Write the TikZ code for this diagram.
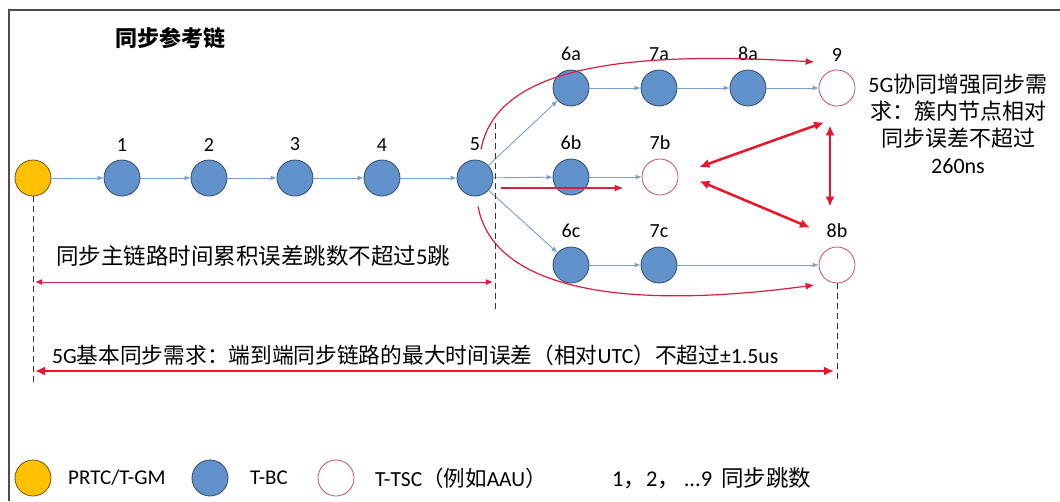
\documentclass[tikz,border=0pt]{standalone}
\usepackage{fontspec}
\setmainfont{Carlito}
\newfontfamily\cjk{Noto Sans CJK SC}
\usepackage{tikz}
\usetikzlibrary{shapes}
\usetikzlibrary{arrows}
\usetikzlibrary{arrows.meta}
\usetikzlibrary{positioning}
\usetikzlibrary{calc}

\definecolor{gmfill}{RGB}{255,192,0}
\definecolor{gmdraw}{RGB}{110,85,20}
\definecolor{bcfill}{RGB}{98,146,204}
\definecolor{bcdraw}{RGB}{52,72,102}
\definecolor{tscdraw}{RGB}{200,80,95}
\definecolor{linkblue}{RGB}{120,160,205}
\definecolor{arcred}{RGB}{215,30,65}
\definecolor{needred}{RGB}{235,20,40}

\begin{document}
\begin{tikzpicture}[x=1pt,y=-1pt,label distance=5pt]
\tikzstyle{every node}=[font=\fontsize{20}{24}\selectfont]
\tikzstyle{gm}=[circle,minimum size=36pt,inner sep=0pt,fill=gmfill,draw=gmdraw,thick]
\tikzstyle{bc}=[circle,minimum size=36pt,inner sep=0pt,fill=bcfill,draw=bcdraw,thick]
\tikzstyle{tsc}=[circle,minimum size=36pt,inner sep=0pt,fill=white,draw=tscdraw,thick]
\tikzstyle{hoplink}=[draw=linkblue,line width=0.9pt,-{Latex[length=6pt,width=5pt]}]
\tikzstyle{redarc}=[draw=arcred,line width=1.2pt,-{Latex[length=9pt,width=7pt]}]
\tikzstyle{needarrow}=[draw=needred,line width=2.5pt,{Latex[length=10pt,width=9pt]}-{Latex[length=10pt,width=9pt]}]
\tikzstyle{spanarrow}=[draw=arcred,line width=1pt,{Latex[length=7pt,width=6pt]}-{Latex[length=7pt,width=6pt]}]
\tikzstyle{guideline}=[draw=black!80,line width=1pt,dash pattern=on 6pt off 4pt]
\tikzstyle{plain}=[anchor=west,inner sep=0pt]

\useasboundingbox (0,0) rectangle (1060,501);
\draw[black!70,line width=1.5pt] (1060,10) -- (9,10) -- (9,501);

\node[font=\cjk\bfseries\fontsize{22}{26}\selectfont] (title) at (170,38) {同步参考链};

% main chain
\node[gm] (gm) at (33,178) {};
\node[bc,label={above:1}] (n1) at (122,178) {};
\node[bc,label={above:2}] (n2) at (209,178) {};
\node[bc,label={above:3}] (n3) at (295,178) {};
\node[bc,label={above:4}] (n4) at (382,178) {};
\node[bc,label={above:5}] (n5) at (475,178) {};

% branches
\node[bc,label={above:6a}] (n6a) at (571,88) {};
\node[bc,label={above:7a}] (n7a) at (659,88) {};
\node[bc,label={above:8a}] (n8a) at (748,88) {};
\node[tsc,label={above:9}] (n9) at (837,88) {};
\node[bc,label={above:6b}] (n6b) at (571,177) {};
\node[tsc,label={above:7b}] (n7b) at (660,177) {};
\node[bc,label={above:6c}] (n6c) at (571,265) {};
\node[bc,label={above:7c}] (n7c) at (659,265) {};
\node[tsc,label={above:8b}] (n8b) at (837,265) {};

\draw[hoplink] (gm) -- (n1);
\draw[hoplink] (n1) -- (n2);
\draw[hoplink] (n2) -- (n3);
\draw[hoplink] (n3) -- (n4);
\draw[hoplink] (n4) -- (n5);
\draw[hoplink] (n5) -- (n6a);
\draw[hoplink] (n5) -- (n6b);
\draw[hoplink] (n5) -- (n6c);
\draw[hoplink] (n6a) -- (n7a);
\draw[hoplink] (n7a) -- (n8a);
\draw[hoplink] (n8a) -- (n9);
\draw[hoplink] (n6b) -- (n7b);
\draw[hoplink] (n6c) -- (n7c);
\draw[hoplink] (n7c) -- (n8b);

% red paths to the T-TSC nodes
\draw[redarc] ($(n5.north)+(6,-10)$) .. controls +(15,-80) and +(-200,-12) .. ($(n9.west)+(-4,-26)$);
\draw[redarc] ($(n5.south)+(3,10)$) .. controls +(15,80) and +(-200,27) .. ($(n8b.west)+(-4,20)$);
\draw[redarc] ($(n5.east)+(8,10)$) -- ($(n7b.west)+(-18,11)$);

% cluster requirement
\draw[needarrow] ($(n7b.east)+(21,-10)$) -- ($(n9.south)+(-13,16)$);
\draw[needarrow] ($(n7b.east)+(21,4)$) -- ($(n8b.north)+(-27,-19)$);
\draw[needarrow] ($(n9.south)+(-7,19)$) -- ($(n8b.north)+(-7,-40)$);
\node[align=center,font=\fontsize{22}{27}\selectfont] (cluster) at (958,124)
  {5G{\cjk 协同增强同步需}\\{\cjk 求：簇内节点相对}\\{\cjk 同步误差不超过}\\260ns};

% spans
\coordinate (gmfoot) at (33,383);
\coordinate (n5top) at (495,123);
\coordinate (n5foot) at (495,311);
\coordinate (n8bfoot) at (837,382);
\draw[guideline] (gm.south) -- (gmfoot);
\draw[guideline] (n5top) -- (n5foot);
\draw[guideline] (n8b.south) -- (n8bfoot);

\coordinate (hopl) at (35,282);
\coordinate (hopr) at (493,282);
\draw[spanarrow] (hopl) -- (hopr);
\node[plain,font=\fontsize{22.5}{26}\selectfont] (hoptext) at (56,256)
  {{\cjk 同步主链路时间累积误差跳数不超过}5{\cjk 跳}};

\coordinate (e2el) at (35,371);
\coordinate (e2er) at (834,371);
\draw[needarrow] (e2el) -- (e2er);
\node[plain,font=\fontsize{21.7}{26}\selectfont] (e2etext) at (52,355)
  {5G{\cjk 基本同步需求：端到端同步链路的最大时间误差（相对}UTC{\cjk ）不超过}±1.5us};

% legend
\node[gm] (keygm) at (33,478) {};
\node[plain,font=\fontsize{21}{24}\selectfont] (keygmtext) at (68,478) {PRTC/T-GM};
\node[bc] (keybc) at (210,478) {};
\node[plain,font=\fontsize{21}{24}\selectfont] (keybctext) at (250,478) {T-BC};
\node[tsc] (keytsc) at (336,478) {};
\node[plain,font=\fontsize{21.5}{24}\selectfont] (keytsctext) at (375,478) {T-TSC{\cjk（例如}AAU{\cjk ）}};
\node[plain,font=\fontsize{22.5}{24}\selectfont] (keyhop) at (612,478) {1{\cjk ，}2{\cjk ，}\,...9\, {\cjk 同步跳数}};
\end{tikzpicture}
\end{document}
